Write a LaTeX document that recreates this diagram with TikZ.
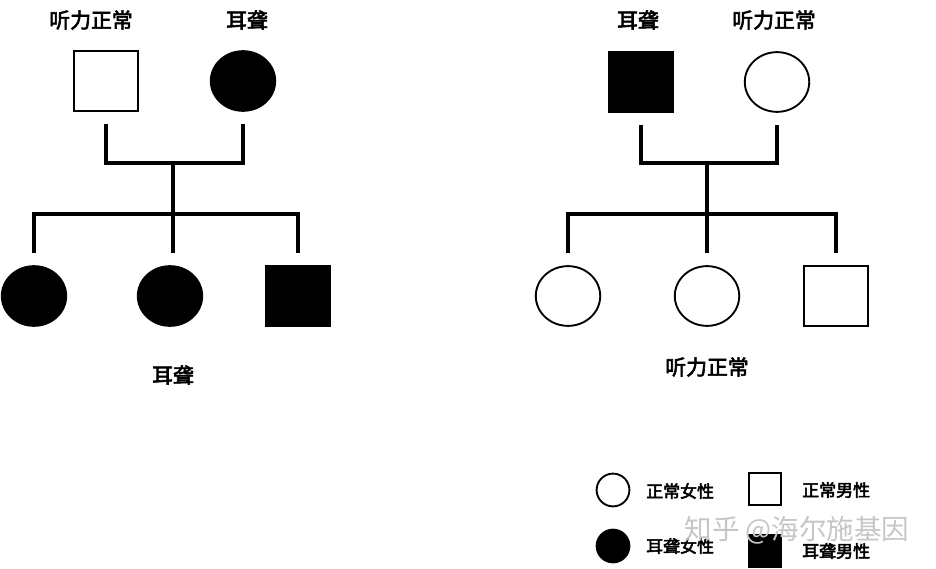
\documentclass[tikz,border=0pt]{standalone}
\usepackage{fontspec}
\setmainfont{Noto Sans CJK SC}[AutoFakeBold=3]
\usetikzlibrary{shapes.geometric}

\tikzset{
    female/.style={ellipse, draw, line width=1.6pt, inner sep=0pt,
                   minimum width=55pt, minimum height=51pt},
    male/.style={rectangle, draw, line width=1.6pt, inner sep=0pt,
                 minimum width=55pt, minimum height=51pt},
    affected/.style={fill=black},
    legendsym/.style={minimum width=28pt, minimum height=28pt},
    link/.style={line width=2.7pt},
    tag/.style={font=\bfseries\fontsize{17.8}{19}\selectfont},
    keytext/.style={font=\bfseries\fontsize{14.5}{16}\selectfont}
}

\begin{document}
\begin{tikzpicture}[x=0.03cm,y=-0.03cm]
    \useasboundingbox (0,0) rectangle (936,569);

    \begin{scope}
        % Parents
        \node[male] (lf) at (106,81) {};
        \node[female,affected] (lm) at (243,81) {};
        \node[tag] (lft) at (91,20) {听力正常};
        \node[tag] (lmt) at (247,20) {耳聋};

        % Children
        \node[female,affected] (lc1) at (34,296) {};
        \node[female,affected] (lc2) at (170,296) {};
        \node[male,affected] (lc3) at (298,296) {};
        \node[tag] (lct) at (173,375) {耳聋};

        % Marriage and sibship lines
        \coordinate (lmar) at (173,163);
        \coordinate (lsib) at (173,214);
        \draw[link] ([yshift=-10pt]lf.south) |- (lmar) -| ([yshift=-10pt]lm.south);
        \draw[link] (lmar) -- (lsib);
        \draw[link] ([yshift=10pt]lc1.north) -- (lc1.north |- lsib) -- (lc3.north |- lsib) -- ([yshift=10pt]lc3.north);
        \draw[link] (lsib) -- ([yshift=10pt]lc2.north -| lsib);
    \end{scope}

    \begin{scope}
        % Parents
        \node[male,affected] (rf) at (641,82) {};
        \node[female] (rm) at (777,82) {};
        \node[tag] (rft) at (638,20) {耳聋};
        \node[tag] (rmt) at (774,20) {听力正常};

        % Children
        \node[female] (rc1) at (568,296) {};
        \node[female] (rc2) at (707,296) {};
        \node[male] (rc3) at (836,296) {};
        \node[tag] (rct) at (707,367) {听力正常};

        % Marriage and sibship lines
        \coordinate (rmar) at (707,163);
        \coordinate (rsib) at (707,214);
        \draw[link] ([yshift=-10pt]rf.south) |- (rmar) -| ([yshift=-10pt]rm.south);
        \draw[link] (rmar) -- (rsib);
        \draw[link] ([yshift=10pt]rc1.north) -- (rc1.north |- rsib) -- (rc3.north |- rsib) -- ([yshift=10pt]rc3.north);
        \draw[link] (rsib) -- ([yshift=10pt]rc2.north -| rsib);
    \end{scope}

    % Legend
    \node[female,legendsym] (kf) at (613,490) {};
    \node[keytext,right] (kft) at (642,491) {正常女性};
    \node[male,legendsym] (km) at (765,489) {};
    \node[keytext,right] (kmt) at (798,490) {正常男性};
    \node[female,legendsym,affected] (kaf) at (613,546) {};
    \node[keytext,right] (kaft) at (642,546) {耳聋女性};
    \node[male,legendsym,affected] (kam) at (765,551) {};
    \node[keytext,right] (kamt) at (798,551) {耳聋男性};

    % Watermark
    \node[text=gray!45,font=\fontsize{23.5}{25}\selectfont] (wm) at (797,530) {知乎 @海尔施基因};
\end{tikzpicture}
\end{document}
